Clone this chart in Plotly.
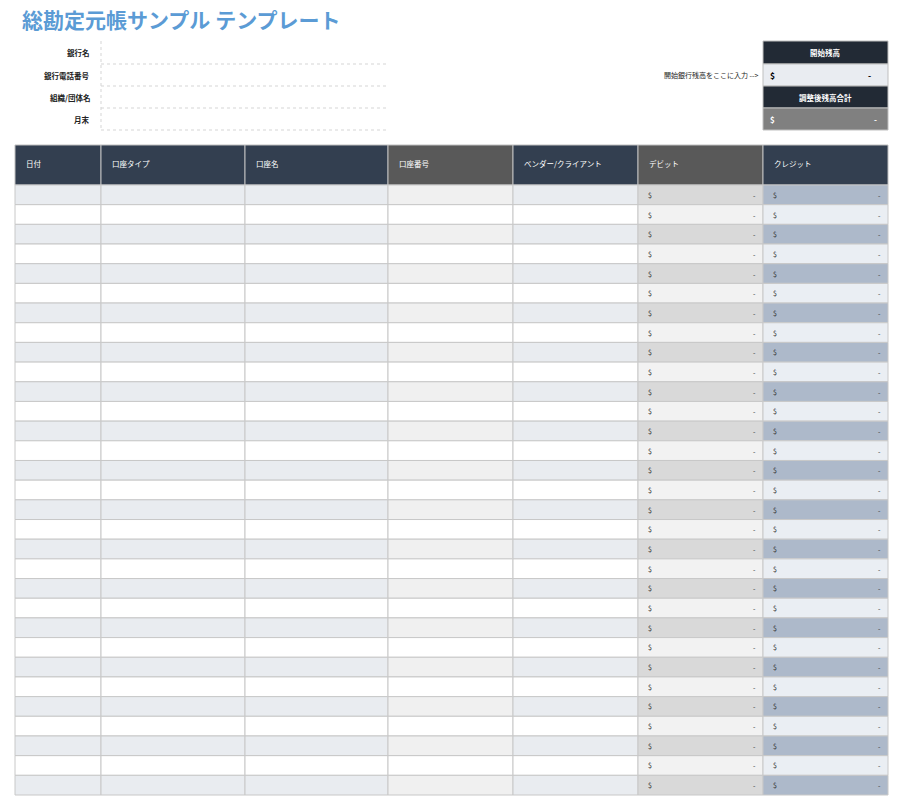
import plotly.graph_objects as go

title = "総勘定元帳サンプル テンプレート"
info_labels = ["銀行名", "銀行電話番号", "組織/団体名", "月末"]
columns = ["日付", "口座タイプ", "口座名", "口座番号", "ベンダー/クライアント", "デビット", "クレジット"]
n_rows = 31
debit = [0] * n_rows
credit = [0] * n_rows
opening_balance = 0
adjusted_total = 0

# layout (pixels)
W, H = 900, 802
col_edges = [15, 101, 245, 388, 513, 638, 763, 888]
head_top, head_bot = 145, 185
row_h = (795 - 185) / n_rows
FONT = "Noto Sans CJK JP"

shapes, ann = [], []
def rect(x0, y0, x1, y1, fill, line=None, lw=0, dash=None):
    shapes.append(dict(type="rect", x0=x0, y0=y0, x1=x1, y1=y1, fillcolor=fill,
                       line=dict(color=line or fill, width=lw, dash=dash), layer="below"))
def text(x, y, s, size=8, color="#000", anchor="left", bold=False):
    ann.append(dict(x=x, y=y, text=f"<b>{s}</b>" if bold else s, showarrow=False, xanchor=anchor,
                    yanchor="middle", font=dict(family=FONT, size=size, color=color)))

ann.append(dict(x=20, y=19, text="<b>" + title + "</b>", showarrow=False, xanchor="left", yanchor="middle",
                font=dict(family=FONT, size=21, color="#5b9bd5")))

# info block
ys = [52, 75, 97, 119]
for lab, y in zip(info_labels, ys):
    text(92, y, lab, 7.5, "#222", "right", True)
for y in [64, 86, 108, 130]:
    shapes.append(dict(type="line", x0=101, x1=388, y0=y, y1=y, line=dict(color="#d5d5d5", width=1, dash="dot")))
shapes.append(dict(type="line", x0=101, x1=101, y0=41, y1=130, line=dict(color="#d5d5d5", width=1, dash="dot")))

# balance box
rect(763, 41, 888, 64, "#222a35", "#bfbfbf", 1)
text(825.5, 52.5, "開始残高", 7.5, "white", "center", True)
rect(763, 64, 888, 86, "#e9ecf1", "#bfbfbf", 1)
text(768, 75, "$", 8.5, "#000", "left", True)
text(873, 75, "-" if opening_balance == 0 else f"{opening_balance:,.2f}", 8.5, "#000", "right", True)
rect(763, 86, 888, 108, "#222a35", "#bfbfbf", 1)
text(825.5, 97, "調整後残高合計", 7.5, "white", "center", True)
rect(763, 108, 888, 130, "#808080", "#bfbfbf", 1)
text(768, 119.5, "$", 8, "white", "left", True)
text(879, 119.5, "-" if adjusted_total == 0 else f"{adjusted_total:,.2f}", 8, "white", "right", True)
text(760, 75, "開始銀行残高をここに入力 -->", 7, "#222", "right")

# header
head_fill = ["#333f50", "#333f50", "#333f50", "#595959", "#333f50", "#595959", "#333f50"]
for i, c in enumerate(columns):
    x0, x1 = col_edges[i], col_edges[i + 1]
    rect(x0, head_top, x1, head_bot, head_fill[i], "#bfbfbf", 1)
    text(x0 + 9, (head_top + head_bot) / 2 - 2, c, 7.5, "white", "left")

# rows
for r in range(n_rows):
    y0 = head_bot + r * row_h
    y1 = y0 + row_h
    odd = r % 2 == 0
    fills = ["#e9ecf0", "#e9ecf0", "#e9ecf0", "#f0f0f0", "#e9ecf0", "#d9d9d9", "#adb9ca"] if odd else \
            ["#ffffff", "#ffffff", "#ffffff", "#ffffff", "#ffffff", "#f2f2f2", "#eaeef3"]
    for i in range(7):
        rect(col_edges[i], y0, col_edges[i + 1], y1, fills[i], "#c8c8c8", 1)
    ym = (y0 + y1) / 2
    for i, v in ((5, debit[r]), (6, credit[r])):
        text(col_edges[i] + 8, ym, "$", 7, "#333")
        text(col_edges[i + 1] - 5, ym, "-" if v == 0 else f"{v:,.2f}", 7, "#333", "right")

fig = go.Figure()
fig.update_layout(width=W, height=H, margin=dict(l=0, r=0, t=0, b=0), plot_bgcolor="white",
                  paper_bgcolor="white", shapes=shapes, annotations=ann, showlegend=False,
                  xaxis=dict(range=[0, W], visible=False, fixedrange=True),
                  yaxis=dict(range=[H, 0], visible=False, fixedrange=True))
fig.write_html("out.html", config={"displayModeBar": False},
               post_script="document.body.style.margin='0';document.body.style.overflow='hidden';")
